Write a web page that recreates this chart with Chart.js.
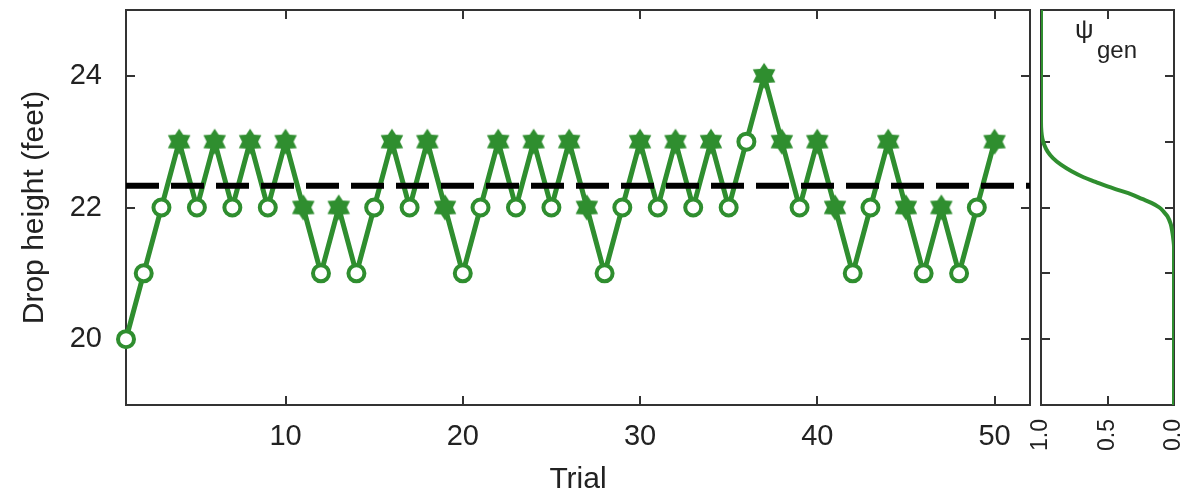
<!DOCTYPE html>
<html>
<head>
<meta charset="utf-8">
<title>Drop height per trial</title>
<script src="https://cdn.jsdelivr.net/npm/chart.js@4.4.1/dist/chart.umd.min.js"></script>
<style>
  html, body { margin: 0; padding: 0; background: #fff; }
  #wrap { position: relative; width: 1188px; height: 492px; overflow: hidden; }
  #wrap canvas { position: absolute; top: 0; }
  #main { left: 0; }
  #side { left: 1020px; }
</style>
</head>
<body>
<div id="wrap">
  <canvas id="main" width="1035" height="492"></canvas>
  <canvas id="side" width="168" height="492"></canvas>
</div>
<script>
// main panel: one drop height per trial, 'o' = open circle, '*' = star
const TRIALS = [1, 2, 3, 4, 5, 6, 7, 8, 9, 10, 11, 12, 13, 14, 15, 16, 17, 18, 19, 20,
  21, 22, 23, 24, 25, 26, 27, 28, 29, 30, 31, 32, 33, 34, 35, 36, 37, 38, 39, 40,
  41, 42, 43, 44, 45, 46, 47, 48, 49, 50];
const HEIGHTS = [20, 21, 22, 23, 22, 23, 22, 23, 22, 23, 22, 21, 22, 21, 22, 23, 22, 23, 22, 21,
  22, 23, 22, 23, 22, 23, 22, 21, 22, 23, 22, 23, 22, 23, 22, 23, 24, 23, 22, 23,
  22, 21, 22, 23, 22, 21, 22, 21, 22, 23];
const MARKERS = ['o', 'o', 'o', '*', 'o', '*', 'o', '*', 'o', '*', '*', 'o', '*', 'o', 'o', '*', 'o', '*', '*', 'o',
  'o', '*', 'o', '*', 'o', '*', '*', 'o', 'o', '*', 'o', '*', 'o', '*', 'o', 'o', '*', '*', 'o', '*',
  '*', 'o', 'o', '*', '*', 'o', '*', 'o', 'o', '*'];
const DASH_LEVEL = 22.33;

const TRIAL_TICKS = [10, 20, 30, 40, 50];
const HEIGHT_TICKS = [20, 22, 24];

// side panel: psi_gen against drop height
const PSI_HEIGHT = [25.0, 23.3, 23.15, 23.05, 22.95, 22.85, 22.75, 22.65, 22.55, 22.46, 22.39, 22.32,
  22.26, 22.2, 22.13, 22.07, 22.0, 21.93, 21.87, 21.75, 21.62, 21.5, 21.4, 19.0];
const PSI_VALUE = [1.0, 1.0, 0.997, 0.99, 0.975, 0.95, 0.91, 0.85, 0.77, 0.68, 0.59, 0.5,
  0.41, 0.32, 0.24, 0.17, 0.11, 0.075, 0.05, 0.025, 0.012, 0.004, 0.0, 0.0];
const PSI_TICKS = [0, 0.5, 1];
const SIDE_HEIGHT_TICKS = [20, 21, 22, 23, 24];

const GREEN = '#2f8e2f';
const INK = '#222';
const FRAME = '#333';

Chart.defaults.font.family = '"Liberation Sans", Arial, sans-serif';
Chart.defaults.color = INK;

function starImage() {
  const c = document.createElement('canvas');
  c.width = c.height = 28;
  const g = c.getContext('2d');
  g.fillStyle = GREEN;
  g.beginPath();
  for (let i = 0; i < 12; i++) {
    const r = i % 2 ? 8 : 13;
    const a = -Math.PI / 2 + i * Math.PI / 6;
    g.lineTo(14 + r * Math.cos(a), 14 + r * Math.sin(a));
  }
  g.closePath();
  g.fill();
  return c;
}
const STAR = starImage();

// box round the plot with inward tick marks on all four sides
const framePlugin = {
  id: 'frame',
  beforeDatasetsDraw(chart, args, opts) {
    const {ctx, chartArea: a, scales} = chart;
    const len = 9;
    ctx.save();
    ctx.strokeStyle = FRAME;
    ctx.lineWidth = 2;
    ctx.beginPath();
    opts.xTicks.forEach(v => {
      const px = Math.round(scales.x.getPixelForValue(v));
      ctx.moveTo(px, a.top); ctx.lineTo(px, a.top + len);
      ctx.moveTo(px, a.bottom); ctx.lineTo(px, a.bottom - len);
    });
    opts.yTicks.forEach(v => {
      const py = Math.round(scales.y.getPixelForValue(v));
      ctx.moveTo(a.left, py); ctx.lineTo(a.left + len, py);
      ctx.moveTo(a.right, py); ctx.lineTo(a.right - len, py);
    });
    ctx.stroke();
    ctx.strokeRect(a.left, a.top, a.right - a.left, a.bottom - a.top);
    ctx.restore();
  }
};

const psiLabel = {
  id: 'psiLabel',
  afterDraw(chart) {
    const {ctx, chartArea: a} = chart;
    ctx.save();
    ctx.fillStyle = INK;
    ctx.textBaseline = 'alphabetic';
    ctx.font = '26px "Liberation Sans", "DejaVu Sans", sans-serif';
    ctx.fillText('ψ', a.left + 34, a.top + 28);
    ctx.font = '24px "Liberation Sans", sans-serif';
    ctx.fillText('gen', a.left + 56, a.top + 48);
    ctx.restore();
  }
};

const mainChart = new Chart(document.getElementById('main'), {
  type: 'line',
  data: {
    datasets: [{
      data: [{x: 1, y: DASH_LEVEL}, {x: 52, y: DASH_LEVEL}],
      borderColor: '#000',
      borderWidth: 6,
      borderDash: [33, 12],
      pointRadius: 0
    }, {
      data: TRIALS.map((t, i) => ({x: t, y: HEIGHTS[i]})),
      borderColor: GREEN,
      borderWidth: 5,
      pointStyle: ctx => MARKERS[ctx.dataIndex] === '*' ? STAR : 'circle',
      pointRadius: 8,
      pointBorderWidth: 4,
      pointBackgroundColor: '#fff',
      pointBorderColor: GREEN,
      clip: false,
      tension: 0
    }]
  },
  options: {
    responsive: false,
    animation: false,
    events: [],
    layout: {autoPadding: false, padding: {top: 10, right: 5, left: 0, bottom: 0}},
    plugins: {
      legend: {display: false},
      tooltip: {enabled: false},
      frame: {xTicks: TRIAL_TICKS, yTicks: HEIGHT_TICKS}
    },
    scales: {
      x: {
        type: 'linear', min: 1, max: 52,
        grid: {display: false, drawTicks: false},
        border: {display: false},
        afterBuildTicks: s => { s.ticks = TRIAL_TICKS.map(v => ({value: v})); },
        afterFit: s => { s.height = 87; s.paddingLeft = 0; s.paddingRight = 0; },
        ticks: {color: INK, font: {size: 29}, padding: 15, maxRotation: 0, autoSkip: false},
        title: {display: true, text: 'Trial', color: INK, font: {size: 30, lineHeight: 0.8}, padding: 0}
      },
      y: {
        type: 'linear', min: 19, max: 25,
        grid: {display: false, drawTicks: false},
        border: {display: false},
        afterBuildTicks: s => { s.ticks = HEIGHT_TICKS.map(v => ({value: v})); },
        afterFit: s => { s.width = 126; s.paddingTop = 0; s.paddingBottom = 0; },
        ticks: {color: INK, font: {size: 29}, padding: 24},
        title: {display: true, text: 'Drop height (feet)', color: INK, font: {size: 30, lineHeight: 1}, padding: {top: 20, bottom: 0}}
      }
    }
  },
  plugins: [framePlugin]
});

const sideChart = new Chart(document.getElementById('side'), {
  type: 'line',
  data: {
    datasets: [{
      data: PSI_HEIGHT.map((h, i) => ({x: PSI_VALUE[i], y: h})),
      borderColor: GREEN,
      borderWidth: 4,
      pointRadius: 0,
      cubicInterpolationMode: 'monotone'
    }]
  },
  options: {
    responsive: false,
    animation: false,
    events: [],
    indexAxis: 'y',
    layout: {autoPadding: false, padding: {top: 10, right: 14, left: 21, bottom: 0}},
    plugins: {
      legend: {display: false},
      tooltip: {enabled: false},
      frame: {xTicks: PSI_TICKS, yTicks: SIDE_HEIGHT_TICKS}
    },
    scales: {
      x: {
        type: 'linear', min: 0, max: 1, reverse: true,
        grid: {display: false, drawTicks: false},
        border: {display: false},
        afterBuildTicks: s => { s.ticks = PSI_TICKS.map(v => ({value: v})); },
        afterFit: s => { s.height = 87; s.paddingLeft = 0; s.paddingRight = 0; },
        ticks: {
          color: INK, font: {size: 23}, padding: 14,
          minRotation: 90, maxRotation: 90, autoSkip: false,
          callback: v => v.toFixed(1)
        }
      },
      y: {type: 'linear', min: 19, max: 25, display: false}
    }
  },
  plugins: [framePlugin, psiLabel]
});
</script>
</body>
</html>
